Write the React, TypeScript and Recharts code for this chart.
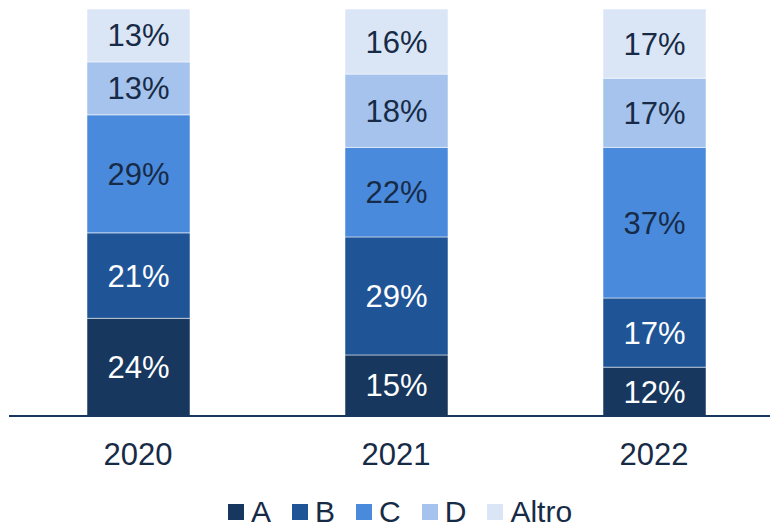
import React from 'react';
import { BarChart, Bar, XAxis, YAxis, Legend, LabelList } from 'recharts';

const years = ['2020', '2021', '2022'];
const seriesA = [24, 15, 12];
const seriesB = [21, 29, 17];
const seriesC = [29, 22, 37];
const seriesD = [13, 18, 17];
const seriesAltro = [13, 16, 17];

const seriesNames = ['A', 'B', 'C', 'D', 'Altro'];
const seriesKeys = ['a', 'b', 'c', 'd', 'altro'];
const seriesColors = ['#17375E', '#1F5597', '#4A8ADC', '#A5C3EC', '#DAE6F6'];
const labelColors = ['#FFFFFF', '#FFFFFF', '#172B47', '#172B47', '#172B47'];
const TEXT = '#172B47';

const data = years.map((y, i) => ({
  year: y,
  a: seriesA[i],
  b: seriesB[i],
  c: seriesC[i],
  d: seriesD[i],
  altro: seriesAltro[i],
}));

const FONT = '"Liberation Sans", Arial, sans-serif';

const Tick = (props: any) => {
  const { x, y, payload } = props;
  return (
    <text x={x} y={y + 41} textAnchor="middle" fill={TEXT} fontSize={31} fontFamily={FONT}>
      {payload.value}
    </text>
  );
};

const LegendContent = () => (
  <div style={{ display: 'flex', alignItems: 'center', fontFamily: FONT, fontSize: 30, lineHeight: '30px', color: TEXT, whiteSpace: 'nowrap' }}>
    {seriesNames.map((n, i) => (
      <div key={n} style={{ display: 'flex', alignItems: 'center', marginRight: i < seriesNames.length - 1 ? 21 : 0 }}>
        <span style={{ display: 'inline-block', width: 16, height: 16, background: seriesColors[i], marginRight: 7 }} />
        <span>{n}</span>
      </div>
    ))}
  </div>
);

export default function App() {
  return (
    <div style={{ width: 770, height: 517, overflow: 'hidden', position: 'relative' }}>
      <BarChart
        width={775}
        height={517}
        data={data}
        margin={{ top: 1, right: 0, bottom: 0, left: 1 }}
        barSize={103}
      >
        <XAxis
          dataKey="year"
          height={109}
          axisLine={{ stroke: '#17375E', strokeWidth: 2 }}
          tickLine={false}
          tick={<Tick />}
          interval={0}
        />
        <YAxis hide domain={[0, 100]} />
        <Legend
          verticalAlign="middle"
          align="center"
          layout="horizontal"
          content={<LegendContent />}
          wrapperStyle={{ top: 489, left: 220, width: 420 }}
        />
        {seriesKeys.map((k, i) => (
          <Bar
            key={k}
            dataKey={k}
            name={seriesNames[i]}
            stackId="s"
            fill={seriesColors[i]}
            stroke="#FFFFFF"
            strokeOpacity={0.5}
            strokeWidth={1}
            isAnimationActive={false}
          >
            <LabelList
              dataKey={k}
              position="center"
              formatter={(v: any) => `${v}%`}
              fill={labelColors[i]}
              fontSize={31}
              fontFamily={FONT}
              stroke="none"
            />
          </Bar>
        ))}
      </BarChart>
    </div>
  );
}
